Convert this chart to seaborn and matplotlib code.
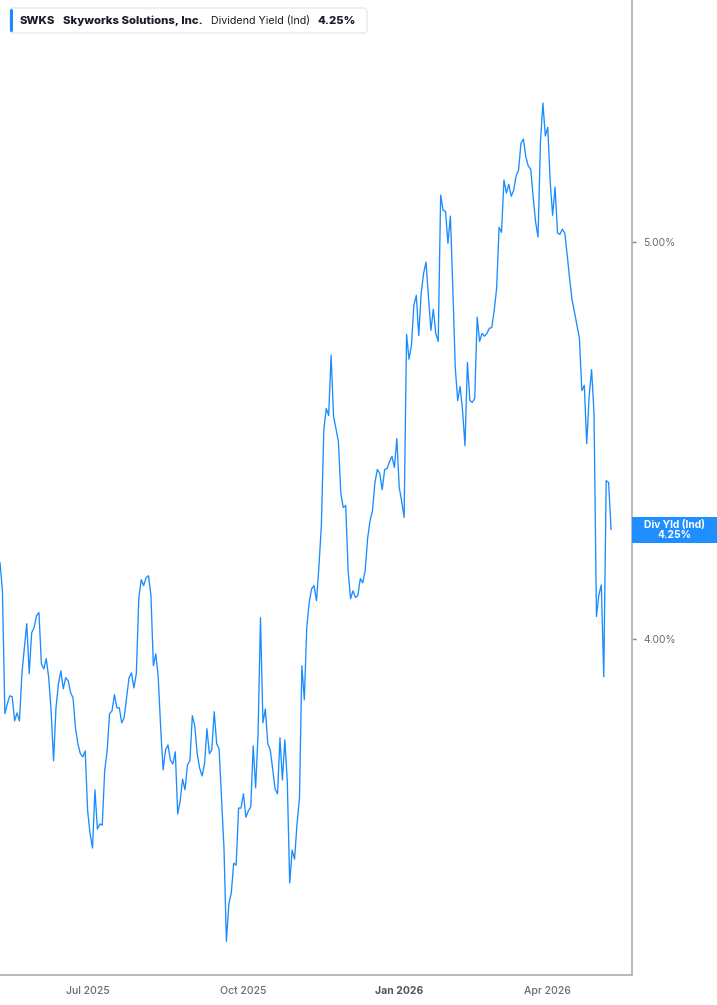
import numpy as np
import pandas as pd
import matplotlib.pyplot as plt
import matplotlib.transforms as mtrans
from matplotlib.patches import FancyBboxPatch, Rectangle
import seaborn as sns

# Dividend yield (%) per trading day, starting 2025-05-08
div_yield = [
    4.192, 4.121, 3.811, 3.836, 3.856, 3.854, 3.793, 3.813, 3.793, 3.912,
    3.977, 4.038, 3.912, 4.015, 4.028, 4.058, 4.066, 3.937, 3.924, 3.950,
    3.902, 3.818, 3.692, 3.826, 3.886, 3.919, 3.874, 3.902, 3.894, 3.864,
    3.851, 3.775, 3.735, 3.710, 3.702, 3.717, 3.566, 3.508, 3.472, 3.619,
    3.520, 3.533, 3.530, 3.667, 3.717, 3.811, 3.818, 3.859, 3.826, 3.826,
    3.788, 3.801, 3.851, 3.902, 3.914, 3.876, 3.912, 4.101, 4.149, 4.134,
    4.154, 4.159, 4.109, 3.932, 3.962, 3.902, 3.775, 3.669, 3.720, 3.732,
    3.694, 3.684, 3.715, 3.558, 3.591, 3.646, 3.619, 3.682, 3.692, 3.806,
    3.780, 3.710, 3.674, 3.654, 3.684, 3.773, 3.710, 3.720, 3.816, 3.735,
    3.722, 3.598, 3.472, 3.237, 3.331, 3.359, 3.434, 3.429, 3.573, 3.573,
    3.609, 3.550, 3.566, 3.576, 3.730, 3.624, 3.760, 4.053, 3.788, 3.823,
    3.735, 3.720, 3.672, 3.621, 3.609, 3.750, 3.644, 3.745, 3.641, 3.384,
    3.467, 3.444, 3.533, 3.596, 3.932, 3.846, 4.028, 4.091, 4.126, 4.134,
    4.096, 4.182, 4.285, 4.525, 4.581, 4.563, 4.715, 4.561, 4.530, 4.497,
    4.366, 4.331, 4.336, 4.172, 4.101, 4.121, 4.104, 4.109, 4.152, 4.141,
    4.172, 4.253, 4.298, 4.323, 4.394, 4.427, 4.417, 4.376, 4.427, 4.429,
    4.447, 4.460, 4.432, 4.505, 4.381, 4.346, 4.306, 4.768, 4.705, 4.740,
    4.841, 4.866, 4.765, 4.871, 4.922, 4.950, 4.861, 4.778, 4.831, 4.770,
    4.750, 5.119, 5.081, 5.078, 4.997, 5.066, 4.886, 4.684, 4.601, 4.636,
    4.576, 4.487, 4.697, 4.601, 4.596, 4.606, 4.811, 4.750, 4.770, 4.763,
    4.770, 4.783, 4.785, 4.828, 4.884, 5.038, 5.025, 5.157, 5.124, 5.146,
    5.116, 5.131, 5.167, 5.182, 5.250, 5.260, 5.215, 5.192, 5.184, 5.114,
    5.051, 5.013, 5.253, 5.351, 5.268, 5.290, 5.152, 5.068, 5.139, 5.023,
    5.020, 5.033, 5.023, 4.967, 4.907, 4.854, 4.823, 4.790, 4.758, 4.626,
    4.639, 4.492, 4.611, 4.679, 4.568, 4.056, 4.111, 4.136, 3.904, 4.399,
    4.394, 4.275,
]

start_date = "2025-05-08"
market_holidays = ["2025-05-26", "2025-06-19", "2025-07-04", "2025-09-01",
                   "2025-11-27", "2025-12-25", "2026-01-01", "2026-01-19",
                   "2026-02-16", "2026-04-03"]
month_ticks = ["2025-07-01", "2025-10-01", "2026-01-01", "2026-04-01"]
month_labels = ["Jul 2025", "Oct 2025", "Jan 2026", "Apr 2026"]
y_ticks = [4.0, 5.0]

ticker = "SWKS"
company = "Skyworks Solutions, Inc."
metric = "Dividend Yield (Ind)"
last_label = "4.25%"

blue = "#1a8cff"
grey_axis = "#b4b4b4"
grey_text = "#6b6b6b"

dates = pd.bdate_range(start=start_date, periods=len(div_yield), freq="C",
                       holidays=market_holidays)
df = pd.DataFrame({"idx": np.arange(len(div_yield)), "date": dates,
                   "yield": div_yield})

sns.set_style("white")
plt.rcParams["font.family"] = ["Inter", "DejaVu Sans"]

W, H = 717, 1005
fig = plt.figure(figsize=(W / 100, H / 100), dpi=100)
ax = fig.add_axes([0, 30 / H, 632 / W, 975 / H])

sns.lineplot(data=df, x="idx", y="yield", ax=ax, color=blue, linewidth=0.95)

ax.set_xlim(0, len(div_yield) - 1 + 8.6)
ax.set_ylim(3.152, 5.611)
ax.set_xlabel("")
ax.set_ylabel("")

# x ticks at the first trading day of each quarter month
tick_pos = [int(np.searchsorted(dates.values, np.datetime64(m))) for m in month_ticks]
ax.set_xticks(tick_pos)
ax.set_xticklabels(month_labels)
for lab in ax.get_xticklabels():
    lab.set_color(grey_text)
    lab.set_fontsize(7.5)
    if lab.get_text().startswith("Jan"):
        lab.set_fontweight("bold")
        lab.set_color("#555555")
    else:
        lab.set_fontweight("medium")

ax.yaxis.tick_right()
ax.set_yticks(y_ticks)
ax.set_yticklabels([f"{v:.2f}%" for v in y_ticks])
ax.tick_params(axis="y", length=3, width=1, color="#888888", labelsize=7.4,
               labelcolor=grey_text, pad=5, direction="out")
ax.tick_params(axis="x", length=3, width=1, color=grey_axis, pad=5)

for side in ["left", "top"]:
    ax.spines[side].set_visible(False)
for side in ["right", "bottom"]:
    ax.spines[side].set_color(grey_axis)
    ax.spines[side].set_linewidth(1.3)

# last value tag on the right axis
last = div_yield[-1]
tag_tr = mtrans.blended_transform_factory(ax.transAxes, ax.transData)
half_h = 13 / 396
ax.add_patch(Rectangle((1.0, last - half_h), (W - 632) / 632, 2 * half_h,
                       transform=tag_tr, facecolor="#1f8fff", edgecolor="none",
                       clip_on=False, zorder=5))
ax.text(1.0 + (W - 632) / 632 / 2, last, "Div Yld (Ind)\n" + last_label,
        transform=tag_tr, ha="center", va="center", color="white",
        fontsize=7.4, fontweight="bold", linespacing=0.95, zorder=6)

# header box
px = mtrans.IdentityTransform()
fig.patches.append(FancyBboxPatch((10, H - 33), 357, 25,
                                  boxstyle="round,pad=0,rounding_size=3",
                                  transform=px, facecolor="white",
                                  edgecolor="#e3e3e3", linewidth=0.8, zorder=10))
fig.patches.append(FancyBboxPatch((10, H - 32), 3, 23,
                                  boxstyle="round,pad=0,rounding_size=1.5",
                                  transform=px, facecolor=blue,
                                  edgecolor="none", zorder=11))
header_y = H - 20.5
fig.text(20, header_y, ticker, transform=px, fontsize=8.2, fontweight="heavy",
         color="#1c1c28", va="center", zorder=12)
fig.text(63, header_y, company, transform=px, fontsize=8.2, fontweight="heavy",
         color="#1c1c28", va="center", zorder=12)
fig.text(211, header_y, metric, transform=px, fontsize=7.7,
         color="#1c1c28", va="center", zorder=12)
fig.text(318, header_y, last_label, transform=px, fontsize=8.2, fontweight="heavy",
         color="#1c1c28", va="center", zorder=12)

fig.savefig("out.png", dpi=100)
